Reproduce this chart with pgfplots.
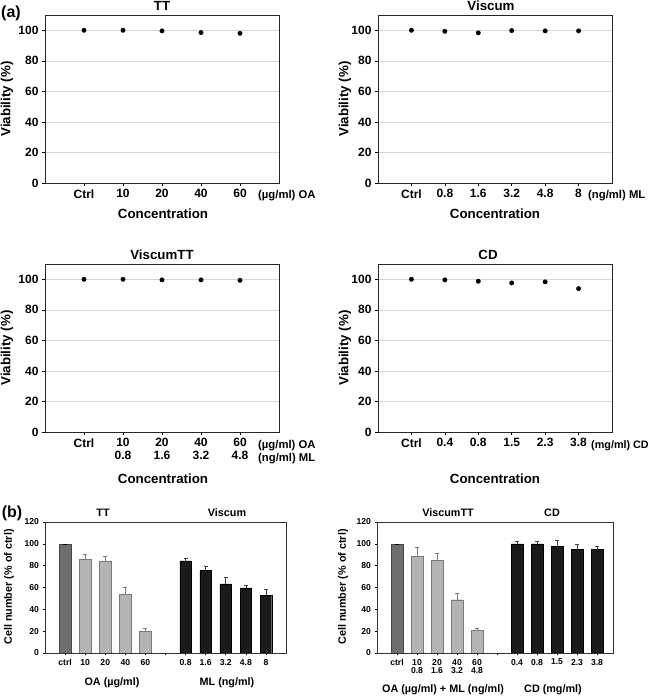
\documentclass[border=0pt]{standalone}
\usepackage{fontspec}
\setmainfont{Liberation Sans}
\usepackage{pgfplots}
\pgfplotsset{compat=1.18}
\definecolor{ctrlc}{HTML}{6E6E6E}
\definecolor{ctrld}{HTML}{454545}
\definecolor{oac}{HTML}{B4B4B4}
\definecolor{oad}{HTML}{7A7A7A}
\definecolor{mlc}{HTML}{1A1A1A}
\newcommand{\fa}{\bfseries\fontsize{12}{13}\selectfont}
\newcommand{\fu}{\bfseries\fontsize{11.3}{13}\selectfont}
\newcommand{\fl}{\bfseries\fontsize{13.3}{15}\selectfont}
\newcommand{\fb}{\bfseries\fontsize{8.6}{8.8}\selectfont}
\newcommand{\flb}{\bfseries\fontsize{10.8}{12}\selectfont}
\pgfplotsset{
  apanel/.style={anchor=south west, scale only axis, width=234pt, height=168pt,
    ymin=0, ymax=110, ytick={0,20,...,100}, ymajorgrids, grid style={black!16, line width=0.6pt},
    tick align=outside, xtick pos=bottom, ytick pos=left, major tick length=3pt,
    axis line style={black!85, line width=0.8pt}, tick style={black, line width=0.6pt},
    /pgf/number format/assume math mode=true,
    ticklabel style={font=\fa}, clip=false},
  bpanel/.style={anchor=south west, scale only axis, height=131pt,
    ymin=0, ymax=120, ytick={0,20,...,120}, xmin=0,
    tick align=outside, xtick pos=bottom, ytick pos=left, major tick length=2.5pt,
    axis line style={black!80, line width=0.8pt}, tick style={black, line width=0.6pt},
    /pgf/number format/assume math mode=true,
    ticklabel style={font=\fb}, xticklabel style={align=center, text depth=0pt}},
  dots/.style={only marks, mark=*, mark size=2.2pt, black},
  bars/.style={ybar, bar width=0.58, bar shift=0pt,
    error bars/y dir=plus, error bars/y explicit,
    error bars/error mark options={rotate=90, mark size=2pt, line width=0.6pt}},
}
\begin{document}
\begin{tikzpicture}
\path[use as bounding box] (0pt,0pt) rectangle (650pt,696pt);
% ---------- (a) TT
\begin{axis}[apanel, at={(45pt,513pt)}, xmin=0, xmax=6, xtick={1,...,5},
  xticklabels={Ctrl,10,20,40,60}]
\addplot[dots] coordinates {(1,100) (2,100) (3,99.6) (4,98.5) (5,98.0)};
\end{axis}
% ---------- (a) Viscum
\begin{axis}[apanel, at={(378pt,513pt)}, xmin=0, xmax=7, xtick={1,...,6},
  xticklabels={Ctrl,0.8,1.6,3.2,4.8,8}]
\addplot[dots] coordinates {(1,100) (2,99.3) (3,98.3) (4,99.8) (5,99.6) (6,99.6)};
\end{axis}
% ---------- (a) ViscumTT
\begin{axis}[apanel, at={(45pt,264pt)}, xmin=0, xmax=6, xtick={1,...,5},
  xticklabel style={align=center},
  xticklabels={Ctrl,{10\\0.8},{20\\1.6},{40\\3.2},{60\\4.8}}]
\addplot[dots] coordinates {(1,100) (2,100) (3,99.6) (4,99.6) (5,99.3)};
\end{axis}
% ---------- (a) CD
\begin{axis}[apanel, at={(378pt,264pt)}, xmin=0, xmax=7, xtick={1,...,6},
  xticklabels={Ctrl,0.4,0.8,1.5,2.3,3.8}]
\addplot[dots] coordinates {(1,100) (2,99.6) (3,98.7) (4,97.6) (5,98.3) (6,93.9)};
\end{axis}
% ---------- (b) left
\begin{axis}[bpanel, at={(45pt,43pt)}, width=241pt, xmax=12,
  xtick={1,...,11}, xticklabels={ctrl,10,20,40,60,,0.8,1.6,3.2,4.8,8}]
\addplot[bars, fill=ctrlc, draw=ctrld] coordinates {(1,100) +- (0,0)};
\addplot[bars, fill=oac, draw=oad, error bars/error bar style={oad, line width=0.6pt}] coordinates {
 (2,85.5) +- (0,4.8) (3,84.5) +- (0,4.0) (4,54) +- (0,6.6) (5,20) +- (0,2.4)};
\addplot[bars, fill=mlc, draw=black, error bars/error bar style={black!75, line width=0.6pt}] coordinates {
 (7,84.5) +- (0,1.9) (8,75.5) +- (0,3.5) (9,63.3) +- (0,6.4) (10,59.7) +- (0,2.1) (11,53) +- (0,5.2)};
\end{axis}
% ---------- (b) right
\begin{axis}[bpanel, at={(377pt,43pt)}, width=236pt, xmax=11.8,
  xtick={1,...,11}, xticklabels={ctrl,{10\\0.8},{20\\1.6},{40\\3.2},{60\\4.8},,0.4,0.8,1.5,2.3,3.8}]
\addplot[bars, fill=ctrlc, draw=ctrld] coordinates {(1,100) +- (0,0)};
\addplot[bars, fill=oac, draw=oad, error bars/error bar style={oad, line width=0.6pt}] coordinates {
 (2,88.8) +- (0,7.6) (3,85) +- (0,6.2) (4,48.8) +- (0,6.0) (5,20.9) +- (0,1.8)};
\addplot[bars, fill=mlc, draw=black, error bars/error bar style={black!75, line width=0.6pt}] coordinates {
 (7,100) +- (0,2.7) (8,100) +- (0,2.0) (9,97.9) +- (0,5.7) (10,94.8) +- (0,4.6) (11,94.8) +- (0,3.1)};
\end{axis}
% ---------- texts
\node[font=\bfseries\fontsize{16}{18}\selectfont] at (11pt,683pt) {(a)};
\node[font=\fl] at (162pt,690pt) {TT};
\node[font=\fl] at (491pt,690pt) {Viscum};
\node[font=\fl] at (162pt,441pt) {ViscumTT};
\node[font=\fl] at (488pt,441pt) {CD};
\node[font=\fl, rotate=90] at (7pt,597pt) {Viability (\%)};
\node[font=\fl, rotate=90] at (345pt,597pt) {Viability (\%)};
\node[font=\fl, rotate=90] at (7pt,348pt) {Viability (\%)};
\node[font=\fl, rotate=90] at (345pt,348pt) {Viability (\%)};
\node[font=\fu, anchor=west, inner sep=0pt] at (258pt,500pt) {(µg/ml) OA};
\node[font=\fu, anchor=west, inner sep=0pt] at (588pt,500pt) {(ng/ml) ML};
\node[font=\fu, anchor=west, inner sep=0pt] at (258pt,250pt) {(µg/ml) OA};
\node[font=\fu, anchor=west, inner sep=0pt] at (258pt,237pt) {(ng/ml) ML};
\node[font=\bfseries\fontsize{10.8}{13}\selectfont, anchor=west, inner sep=0pt] at (591pt,250pt) {(mg/ml) CD};
\node[font=\fl] at (163pt,482pt) {Concentration};
\node[font=\fl] at (495pt,482pt) {Concentration};
\node[font=\fl] at (163pt,217pt) {Concentration};
\node[font=\fl] at (495pt,217pt) {Concentration};
\node[font=\bfseries\fontsize{16}{18}\selectfont] at (12pt,183pt) {(b)};
\node[font=\flb] at (103pt,183pt) {TT};
\node[font=\flb] at (227pt,183pt) {Viscum};
\node[font=\flb] at (448pt,183pt) {ViscumTT};
\node[font=\flb] at (552pt,183pt) {CD};
\node[font=\flb, rotate=90] at (9pt,109pt) {Cell number (\% of ctrl)};
\node[font=\flb, rotate=90] at (343pt,109pt) {Cell number (\% of ctrl)};
\node[font=\flb] at (112pt,13pt) {OA (µg/ml)};
\node[font=\flb] at (227pt,13pt) {ML (ng/ml)};
\node[font=\flb] at (443pt,6pt) {OA (µg/ml) + ML (ng/ml)};
\node[font=\flb] at (553pt,6pt) {CD (mg/ml)};
\end{tikzpicture}
\end{document}
